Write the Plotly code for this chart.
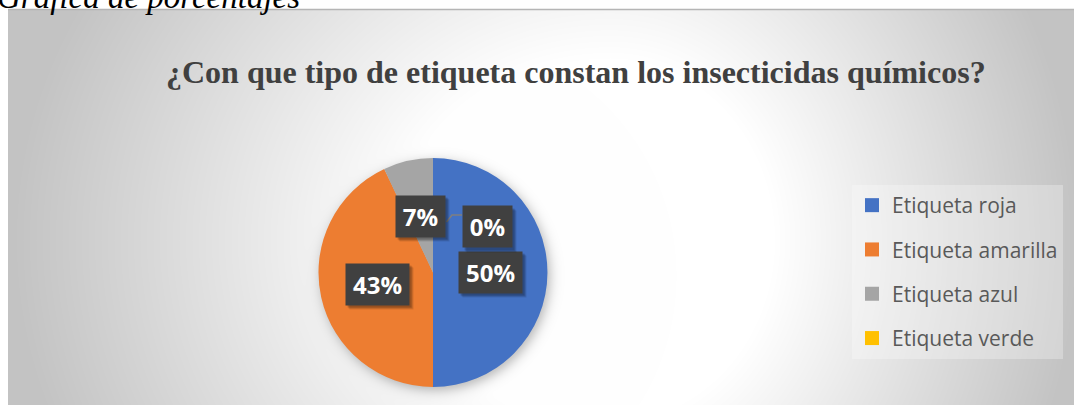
import base64
import struct
import zlib

import numpy as np
import plotly.graph_objects as go

# ---- data -------------------------------------------------------------
categories = ["Etiqueta roja", "Etiqueta amarilla", "Etiqueta azul", "Etiqueta verde"]
percentages = [50, 43, 7, 0]
colors = ["#4472C4", "#ED7D31", "#A5A5A5", "#FFC000"]
title_text = "¿Con que tipo de etiqueta constan los insecticidas químicos?"
caption_text = "Gráfica de porcentajes"

# ---- geometry (pixels) --------------------------------------------------
W, H = 1074, 405
FX0, FY0 = 8, 10                  # top-left corner of the chart frame
PCX, PCY, PR = 433, 272.5, 114.5  # pie centre and radius


def px(x):
    return x / W


def py(y):
    return 1 - y / H


def png_data_uri(gray):
    """Encode a 2-D uint8 array as a greyscale PNG data URI."""
    h, w = gray.shape
    raw = b"".join(b"\x00" + gray[r].tobytes() for r in range(h))

    def chunk(tag, data):
        c = struct.pack(">I", len(data)) + tag + data
        return c + struct.pack(">I", zlib.crc32(tag + data) & 0xFFFFFFFF)

    png = (b"\x89PNG\r\n\x1a\n"
           + chunk(b"IHDR", struct.pack(">IIBBBBB", w, h, 8, 0, 0, 0, 0))
           + chunk(b"IDAT", zlib.compress(raw, 9))
           + chunk(b"IEND", b""))
    return "data:image/png;base64," + base64.b64encode(png).decode()


# ---- radial grey background with a soft shadow under the pie ------------
fw, fh = W - FX0, H - FY0
yy, xx = np.mgrid[0:fh, 0:fw].astype(float)
xx += FX0
yy += FY0
gcx, gcy = 610.0, 240.0
rx = np.where(xx < gcx, 600.0, 470.0)
ry = 520.0
d = np.hypot((xx - gcx) / rx, (yy - gcy) / ry)
t = np.clip((d - 0.35) / 0.65, 0, 1)
val = 255.0 - 60.0 * t
dist = np.hypot(xx - (PCX + 2), yy - (PCY + 3))
shadow = 1.0 / (1.0 + np.exp(-(PR - dist) / 3.5))
val = val * (1 - 0.28 * shadow)
bg_uri = png_data_uri(np.clip(val, 0, 255).astype(np.uint8))

fig = go.Figure()

fig.add_trace(go.Pie(
    labels=categories,
    values=percentages,
    marker=dict(colors=colors, line=dict(width=0)),
    sort=False,
    direction="clockwise",
    rotation=0,
    textinfo="none",
    showlegend=False,
    hoverinfo="label+percent",
    domain=dict(x=[px(PCX - PR), px(PCX + PR)], y=[py(PCY + PR), py(PCY - PR)]),
))

# legend entries (one group each so the rows can be spaced apart)
for cat, col in zip(categories, colors):
    fig.add_trace(go.Scatter(
        x=[None], y=[None], mode="markers", name=cat,
        marker=dict(symbol="square", size=14, color=col, line=dict(width=0)),
        legendgroup=cat, hoverinfo="skip",
    ))

# ---- data labels in dark boxes -----------------------------------------
annotations = []
total = sum(percentages)
start = 0.0
for cat, v in zip(categories, percentages):
    mid = (start + v / 2.0) / total * 2 * np.pi
    start += v
    lx = PCX + 0.5 * PR * np.sin(mid)
    ly = PCY - 0.5 * PR * np.cos(mid)
    if v == 0:
        # empty slice: label pushed aside with a leader line
        lx += 54
        ly += 11.75
    txt = f"{v}%"
    bw = 21 + 14 * len(txt)
    bh = 41
    for off, alpha in ((4, 0.10), (3, 0.14), (2, 0.16)):
        annotations.append(dict(
            x=px(lx + off), y=py(ly + off), xref="paper", yref="paper",
            xanchor="center", yanchor="middle", showarrow=False,
            text=txt, font=dict(family="Open Sans", size=24, color="rgba(0,0,0,0)"),
            bgcolor=f"rgba(0,0,0,{alpha})", width=bw, height=bh, borderpad=0,
        ))
    annotations.append(dict(
        x=px(lx), y=py(ly), xref="paper", yref="paper",
        xanchor="center", yanchor="middle", showarrow=False,
        text=f"<b>{txt}</b>",
        font=dict(family="Open Sans", size=24, color="white"),
        bgcolor="#404040", width=bw, height=bh, borderpad=0,
    ))

annotations.append(dict(
    x=px(576), y=py(72), xref="paper", yref="paper",
    xanchor="center", yanchor="middle", showarrow=False,
    text=f"<b>{title_text}</b>",
    font=dict(family="Liberation Serif", size=32, color="#404040"),
))

annotations.append(dict(
    x=px(-5), y=py(17), xref="paper", yref="paper",
    xanchor="left", yanchor="bottom", showarrow=False,
    text=f"<i>{caption_text}</i>",
    font=dict(family="Liberation Serif", size=33, color="black"),
))

shapes = [
    # top edge of the chart frame
    dict(type="line", xref="paper", yref="paper",
         x0=px(FX0), x1=1, y0=py(FY0 - 0.5), y1=py(FY0 - 0.5),
         line=dict(color="#b5b5b5", width=1.5), layer="above"),
    # leader line of the empty slice label
    dict(type="path", xref="paper", yref="paper",
         path=f"M {px(446.5)} {py(222)} L {px(452)} {py(215)} L {px(462)} {py(215)}",
         line=dict(color="#7f7f7f", width=1.5), layer="above"),
]

fig.update_layout(
    width=W, height=H, autosize=False,
    margin=dict(l=0, r=0, t=0, b=0),
    paper_bgcolor="white", plot_bgcolor="rgba(0,0,0,0)",
    xaxis=dict(visible=False), yaxis=dict(visible=False),
    images=[dict(source=bg_uri, xref="paper", yref="paper",
                 x=px(FX0), y=py(FY0), sizex=fw / W, sizey=fh / H,
                 xanchor="left", yanchor="top", sizing="stretch", layer="below")],
    legend=dict(
        x=px(852), xanchor="left", y=py(185), yanchor="top",
        bgcolor="rgba(255,255,255,0.28)", borderwidth=0,
        font=dict(family="Open Sans", size=21, color="#595959"),
        traceorder="grouped", tracegroupgap=14, itemclick=False, itemdoubleclick=False,
    ),
    annotations=annotations,
    shapes=shapes,
)

fig.write_html("out.html")
